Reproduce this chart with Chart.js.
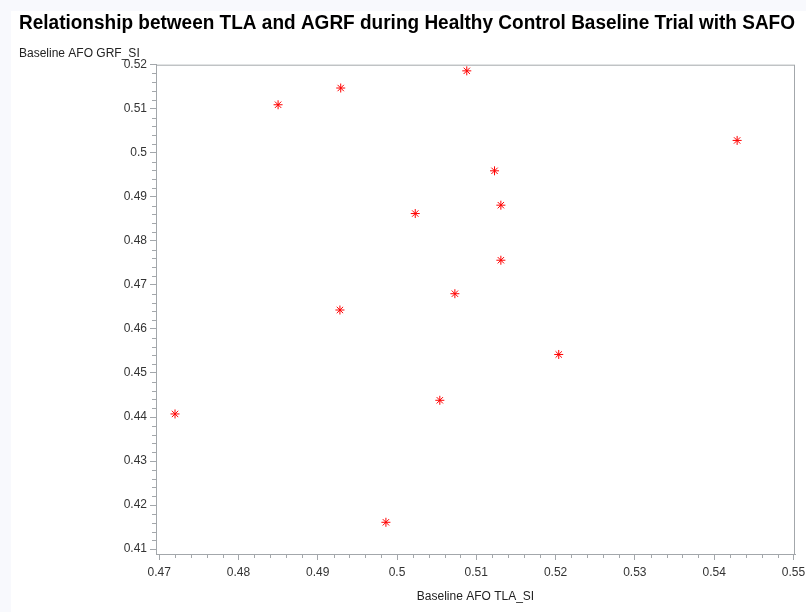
<!DOCTYPE html>
<html>
<head>
<meta charset="utf-8">
<script src="https://cdn.jsdelivr.net/npm/chart.js@4"></script>
<style>
  html, body { margin: 0; padding: 0; background: #f8f9fd; }
  #wrap { position: absolute; left: 11px; top: 11px; width: 795px; height: 601px; background: #fff; }
</style>
</head>
<body>
<div id="wrap"><canvas id="scatter"></canvas></div>
<script>
// Baseline AFO TLA_SI (x) vs Baseline AFO GRF_SI (y)
const tlaValues = [0.4720, 0.4850, 0.4929, 0.5088, 0.5429, 0.5123, 0.5131,
                   0.5023, 0.5131, 0.5073, 0.4928, 0.5204, 0.5054, 0.4986];
const grfValues = [0.4407, 0.5109, 0.5147, 0.5186, 0.5028, 0.4959, 0.4881,
                   0.4862, 0.4756, 0.4680, 0.4643, 0.4542, 0.4438, 0.4161];

const xRange = [0.4696, 0.5502];
const yRange = [0.4089, 0.5200];
const majorStep = 0.01;
const minorStep = 0.002;

const axisGrey = '#a3a7ab';
const labelFont = { family: 'Liberation Sans, Arial, sans-serif', size: 12 };

function fmt(v) {
  return Number(v.toFixed(2)).toString();
}

// frame around the plot + minor tick marks
const framePlugin = {
  id: 'frame',
  afterDraw(chart) {
    const { ctx, chartArea: a, scales } = chart;
    ctx.save();
    ctx.strokeStyle = axisGrey;
    ctx.lineWidth = 1;
    ctx.strokeRect(a.left + 0.5, a.top + 0.5, a.right - a.left - 1, a.bottom - a.top);

    ctx.beginPath();
    const xs = scales.x, ys = scales.y;
    for (let k = Math.ceil(xs.min / minorStep); k * minorStep <= xs.max; k++) {
      if (k % 5 === 0) continue;
      const px = Math.round(xs.getPixelForValue(k * minorStep)) + 0.5;
      ctx.moveTo(px, a.bottom);
      ctx.lineTo(px, a.bottom + 4);
    }
    for (let k = Math.ceil(ys.min / minorStep); k * minorStep <= ys.max; k++) {
      if (k % 5 === 0) continue;
      const py = Math.round(ys.getPixelForValue(k * minorStep)) + 0.5;
      ctx.moveTo(a.left, py);
      ctx.lineTo(a.left - 4, py);
    }
    ctx.stroke();
    ctx.restore();
  }
};

new Chart(document.getElementById('scatter'), {
  type: 'scatter',
  data: {
    datasets: [{
      label: 'GRF_SI',
      data: tlaValues.map((x, i) => ({ x: x, y: grfValues[i] })),
      pointStyle: 'star',
      pointRadius: 4.5,
      pointHoverRadius: 4.5,
      borderColor: '#ff0000',
      backgroundColor: '#ff0000',
      borderWidth: 1
    }]
  },
  options: {
    responsive: true,
    maintainAspectRatio: false,
    animation: false,
    layout: { padding: { left: 8, right: 11, top: 0, bottom: 8 } },
    plugins: {
      legend: { display: false },
      tooltip: { enabled: false },
      title: {
        display: true,
        text: 'Relationship between TLA and AGRF during Healthy Control Baseline Trial with SAFO',
        align: 'start',
        color: '#000',
        font: { family: 'Liberation Sans, Arial, sans-serif', size: 19.4, weight: 'bold' },
        padding: { top: 1, bottom: 11 }
      },
      subtitle: {
        display: true,
        text: 'Baseline AFO GRF_SI',
        align: 'start',
        color: '#222',
        font: labelFont,
        padding: { top: 0, bottom: 4 }
      }
    },
    scales: {
      x: {
        type: 'linear',
        min: xRange[0],
        max: xRange[1],
        afterFit(scale) {
          scale.height = 50;
          scale.paddingRight = 0;
          scale.paddingLeft = 0;
        },
        border: { color: axisGrey },
        grid: { drawOnChartArea: false, tickLength: 6, color: axisGrey },
        ticks: {
          stepSize: majorStep,
          includeBounds: false,
          color: '#333',
          font: labelFont,
          padding: 5,
          maxRotation: 0,
          callback: fmt
        },
        title: {
          display: true,
          text: 'Baseline AFO TLA_SI',
          color: '#222',
          font: labelFont,
          padding: { top: 8, bottom: 0 }
        }
      },
      y: {
        type: 'linear',
        min: yRange[0],
        max: yRange[1],
        afterFit(scale) { scale.width = 137; },
        border: { color: axisGrey },
        grid: { drawOnChartArea: false, tickLength: 6, color: axisGrey },
        ticks: {
          stepSize: majorStep,
          includeBounds: false,
          color: '#333',
          font: labelFont,
          padding: 3,
          callback: fmt
        }
      }
    }
  },
  plugins: [framePlugin]
});
</script>
</body>
</html>
